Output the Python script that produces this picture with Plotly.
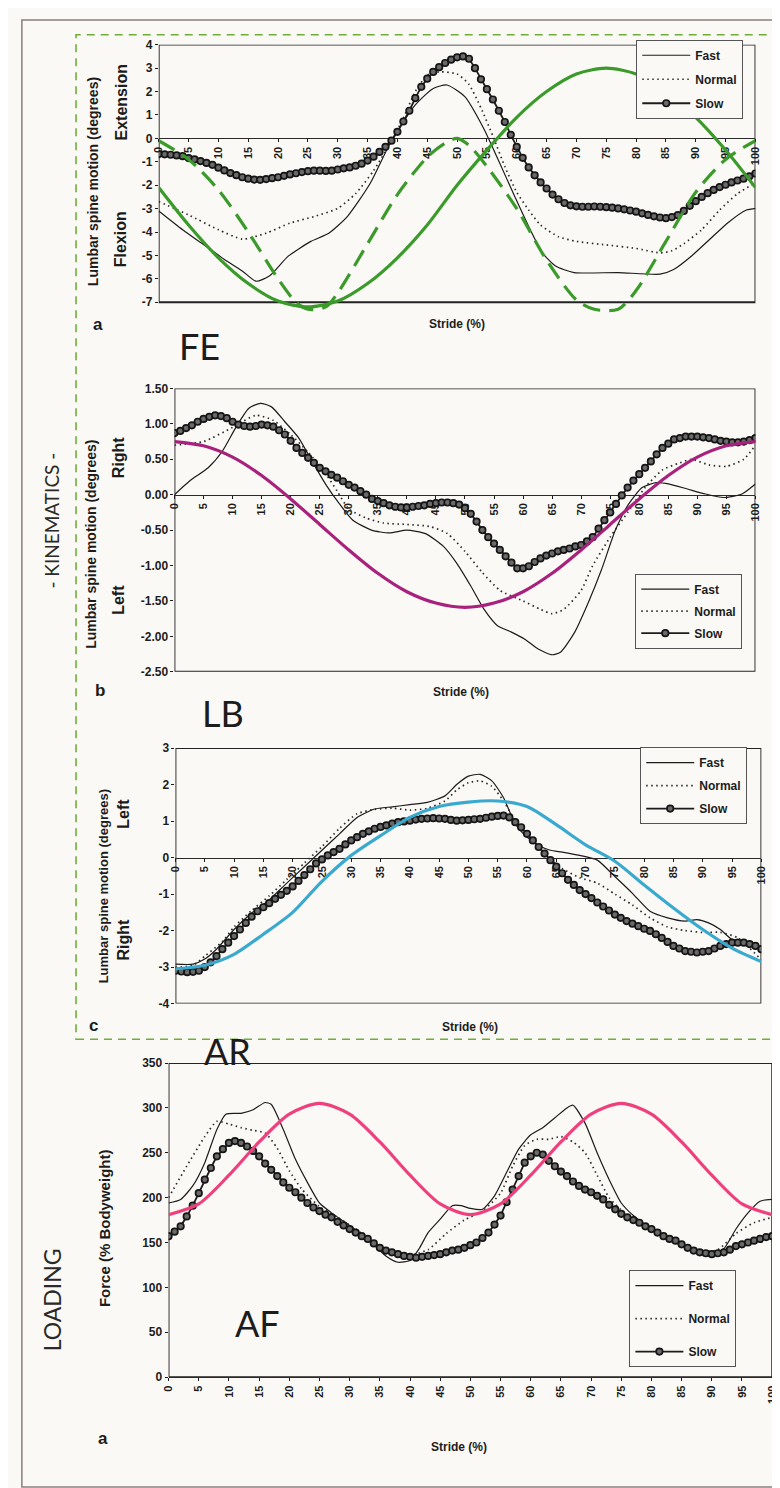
import plotly.graph_objects as go

W, H = 780, 1488
BG = "#fbf9f5"
INK = "#1c1c1c"
NARROW = "Liberation Sans Narrow, Arial Narrow, Liberation Sans, Arial, sans-serif"
HUMAN = "Lato, Open Sans, Noto Sans, sans-serif"

# ------------------------------------------------------------------ data
series_names = ["Fast", "Normal", "Slow"]
stride_ticks = list(range(0, 101, 5))
slow_x = list(range(0, 101))

# --- FE (flexion / extension)
fe_yticks = [4, 3, 2, 1, 0, -1, -2, -3, -4, -5, -6, -7]
fe_fast_x = [0, 4, 8.7, 11, 14, 16.3, 18.6, 21.7, 25.5, 28.5, 31.6, 35.4, 39, 43, 46, 48.3, 51.3, 54.4, 56.7, 59.7,
             62, 64.3, 66.5, 69.6, 77, 84, 86.3, 89.4, 92.4, 95.4, 98.5, 100]
fe_fast_y = [-3.1, -3.9, -4.75, -5.17, -5.66, -6.1, -5.87, -5.03, -4.4, -4.05, -3.34, -1.94, -0.1, 1.43, 2.13, 2.28,
             1.78, 0.45, -0.81, -2.5, -3.76, -4.89, -5.45, -5.73, -5.73, -5.8, -5.6, -5.0, -4.3, -3.6, -3.06, -3.0]
fe_norm_x = [0, 5, 10, 14, 18, 22, 26, 30, 33, 36, 39, 41, 43, 45, 47, 50, 52, 54, 56, 58, 60, 62, 64, 67, 70, 75,
             80, 84, 86, 88, 91, 94, 97, 100]
fe_norm_y = [-2.7, -3.27, -3.9, -4.3, -4.05, -3.62, -3.34, -2.99, -2.36, -1.38, -0.11, 0.87, 2.0, 2.7, 2.84, 2.75,
             2.3, 1.3, 0.1, -1.2, -2.3, -3.06, -3.7, -4.2, -4.4, -4.55, -4.7, -4.89, -4.8, -4.5, -3.9, -3.06, -2.36,
             -1.9]
fe_slow_y = [-0.67, -0.68, -0.70, -0.73, -0.76, -0.84, -0.90, -0.97, -1.05, -1.13,
             -1.25, -1.37, -1.48, -1.57, -1.66, -1.72, -1.76, -1.77, -1.74, -1.70,
             -1.66, -1.60, -1.54, -1.49, -1.44, -1.40, -1.38, -1.38, -1.39, -1.38,
             -1.33, -1.28, -1.24, -1.17, -1.08, -0.95, -0.78, -0.58, -0.36, -0.10,
             0.28, 0.72, 1.18, 1.72, 2.20, 2.55, 2.84, 3.04, 3.22, 3.36,
             3.46, 3.50, 3.40, 3.00, 2.52, 2.10, 1.66, 1.18, 0.70, 0.15,
             -0.36, -0.83, -1.24, -1.58, -1.88, -2.14, -2.40, -2.60, -2.76, -2.86,
             -2.90, -2.92, -2.92, -2.91, -2.92, -2.94, -2.96, -2.99, -3.03, -3.08,
             -3.13, -3.20, -3.27, -3.33, -3.38, -3.41, -3.36, -3.28, -3.10, -2.88,
             -2.68, -2.50, -2.34, -2.20, -2.08, -1.98, -1.88, -1.80, -1.72, -1.62,
             -1.50]
fe_green_sine = [-2.1, -3.7, -5.1, -6.2, -6.95, -7.2, -6.95, -6.2, -5.1, -3.7, -2.0, -0.5, 0.9, 2.0, 2.75, 3.0,
                 2.75, 2.0, 0.9, -0.5, -2.1]
fe_green_dash_x = [0, 5, 10, 15, 20, 23, 25, 28, 30, 35, 40, 45, 48, 50, 52, 55, 60, 65, 70, 73, 77, 80, 85, 90, 95,
                   100]
fe_green_dash_y = [-0.1, -0.9, -2.2, -4.0, -6.0, -7.0, -7.3, -7.2, -6.6, -4.5, -2.4, -0.8, -0.2, 0.0, -0.3, -1.2,
                   -3.0, -5.2, -6.9, -7.3, -7.3, -6.5, -4.4, -2.3, -0.9, -0.1]

# --- LB (lateral bending)
lb_yticks = [1.5, 1.0, 0.5, 0.0, -0.5, -1.0, -1.5, -2.0, -2.5]
lb_ytick_labels = ["1.50", "1.00", "0.50", "0.00", "-0.50", "-1.00", "-1.50", "-2.00", "-2.50"]
lb_fast_x = [0, 2.7, 5.8, 8.2, 10.5, 12.8, 14.8, 16.7, 19, 21.4, 23.7, 26, 28.4, 30.7, 33.9, 37, 40, 43.2, 46.3, 48.6,
             51, 53.3, 55.6, 58, 60.3, 62.6, 65, 66.5, 68.9, 71.2, 73.5, 75.9, 78.2, 80.5, 82.9, 85.2, 88.3, 91.4,
             94.5, 97.7, 100]
lb_fast_y = [0, 0.2, 0.38, 0.61, 0.94, 1.22, 1.29, 1.24, 1.03, 0.8, 0.47, 0.15, -0.13, -0.36, -0.5, -0.54, -0.5,
             -0.55, -0.73, -0.97, -1.29, -1.62, -1.85, -1.94, -2.04, -2.18, -2.26, -2.22, -1.94, -1.53, -1.06, -0.5,
             -0.13, 0.1, 0.17, 0.15, 0.08, 0.01, -0.04, 0.01, 0.15]
lb_norm_x = [0, 5, 10, 14, 17, 20, 23, 26, 28, 30, 33, 36, 40, 44, 47, 50, 53, 56, 60, 63, 65, 67, 70, 72, 75, 78,
             81, 84, 87, 89, 92, 95, 98, 100]
lb_norm_y = [0.7, 0.75, 0.95, 1.12, 1.05, 0.85, 0.6, 0.3, 0.05, -0.2, -0.33, -0.4, -0.42, -0.45, -0.55, -0.8, -1.1,
             -1.35, -1.5, -1.62, -1.68, -1.62, -1.35, -1.0, -0.6, -0.25, 0.1, 0.35, 0.45, 0.5, 0.42, 0.4, 0.5, 0.7]
lb_slow_y = [0.87, 0.90, 0.94, 0.98, 1.03, 1.07, 1.10, 1.12, 1.11, 1.08,
             1.03, 0.99, 0.97, 0.96, 0.97, 0.99, 0.98, 0.96, 0.91, 0.85,
             0.76, 0.66, 0.59, 0.52, 0.45, 0.38, 0.33, 0.28, 0.24, 0.19,
             0.14, 0.10, 0.05, 0.00, -0.06, -0.09, -0.12, -0.15, -0.17, -0.18,
             -0.18, -0.17, -0.16, -0.15, -0.13, -0.12, -0.11, -0.11, -0.12, -0.14,
             -0.19, -0.27, -0.38, -0.50, -0.60, -0.69, -0.78, -0.87, -0.96, -1.04,
             -1.04, -1.01, -0.95, -0.90, -0.86, -0.83, -0.80, -0.78, -0.76, -0.73,
             -0.71, -0.66, -0.60, -0.48, -0.36, -0.25, -0.13, -0.01, 0.10, 0.20,
             0.29, 0.38, 0.47, 0.57, 0.66, 0.72, 0.78, 0.80, 0.82, 0.82,
             0.82, 0.81, 0.80, 0.78, 0.76, 0.75, 0.74, 0.74, 0.75, 0.77,
             0.80]
lb_magenta = [0.75, 0.69, 0.53, 0.27, -0.06, -0.42, -0.78, -1.11, -1.37, -1.53, -1.59, -1.53, -1.37, -1.11, -0.78,
              -0.42, -0.06, 0.27, 0.53, 0.69, 0.75]

# --- AR (axial rotation)
ar_yticks = [3, 2, 1, 0, -1, -2, -3, -4]
ar_fast_x = [0, 3, 5, 7, 10, 13, 16, 19, 22, 25, 28, 31, 34, 37, 40, 43, 46, 48, 50, 52, 54, 56, 58, 60, 62, 64, 66,
             69, 72, 75, 78, 81, 84, 87, 89, 91, 93, 95, 97, 100]
ar_fast_y = [-2.92, -2.92, -2.78, -2.51, -1.97, -1.52, -1.16, -0.7, -0.25, 0.2, 0.65, 1.1, 1.33, 1.39, 1.45, 1.51,
             1.69, 2.0, 2.23, 2.28, 2.1, 1.64, 0.92, 0.56, 0.33, 0.2, 0.15, 0.06, -0.07, -0.52, -0.98, -1.47, -1.65,
             -1.74, -1.7, -1.79, -1.97, -2.24, -2.29, -2.51]
ar_norm_x = [0, 3, 5, 8, 10, 13, 16, 19, 22, 25, 28, 31, 34, 37, 40, 43, 46, 48, 50, 52, 54, 56, 58, 60, 63, 66, 69,
             72, 75, 78, 81, 84, 87, 90, 93, 96, 100]
ar_norm_y = [-3.0, -2.95, -2.7, -2.3, -1.9, -1.45, -1.05, -0.6, -0.15, 0.3, 0.8, 1.2, 1.32, 1.35, 1.3, 1.35, 1.55,
             1.85, 2.05, 2.1, 1.95, 1.55, 1.0, 0.6, 0.1, -0.3, -0.55, -0.7, -1.0, -1.3, -1.65, -1.9, -2.0, -2.05,
             -2.05, -2.2, -2.8]
ar_slow_y = [-3.10, -3.12, -3.14, -3.13, -3.10, -3.00, -2.87, -2.70, -2.51, -2.33,
             -2.15, -1.97, -1.79, -1.62, -1.47, -1.36, -1.25, -1.13, -1.02, -0.91,
             -0.79, -0.64, -0.48, -0.32, -0.16, -0.05, 0.06, 0.15, 0.24, 0.36,
             0.47, 0.56, 0.65, 0.72, 0.79, 0.84, 0.88, 0.93, 0.97, 0.99,
             1.01, 1.04, 1.06, 1.07, 1.08, 1.07, 1.06, 1.03, 1.01, 1.02,
             1.03, 1.05, 1.06, 1.09, 1.12, 1.14, 1.15, 1.10, 0.97, 0.83,
             0.65, 0.47, 0.29, 0.11, -0.07, -0.25, -0.43, -0.61, -0.75, -0.89,
             -1.00, -1.11, -1.23, -1.34, -1.45, -1.56, -1.65, -1.74, -1.81, -1.88,
             -1.95, -2.01, -2.10, -2.20, -2.31, -2.42, -2.49, -2.56, -2.58, -2.60,
             -2.58, -2.56, -2.49, -2.42, -2.37, -2.33, -2.33, -2.33, -2.37, -2.42,
             -2.51]
ar_cyan = [-3.05, -2.95, -2.65, -2.1, -1.5, -0.65, 0.06, 0.6, 1.1, 1.4, 1.52, 1.55, 1.4, 0.9, 0.35, -0.1, -0.75,
           -1.38, -1.97, -2.48, -2.85]

# --- AF (axial force)
af_yticks = [350, 300, 250, 200, 150, 100, 50, 0]
af_fast_x = [0, 2, 4, 6, 8, 9.5, 12, 14, 16, 17, 19, 21, 23, 25, 27, 30, 33, 36, 38, 40, 41.5, 43, 45, 47, 48.5, 50,
             52, 54, 56, 58, 60, 62, 64, 66, 67, 69, 71, 73, 75, 77, 80, 83, 86, 88, 90, 92, 94, 96, 98, 100]
af_fast_y = [194, 198, 213, 239, 276, 293, 294, 298, 306, 304, 276, 243, 217, 194, 183, 169, 154, 135, 128, 130,
             143, 161, 176, 191, 191, 188, 187, 202, 228, 254, 270, 278, 289, 300, 303, 283, 250, 220, 194, 180,
             165, 154, 143, 137, 135, 143, 165, 183, 196, 198]
af_norm_x = [0, 3, 6, 8, 10, 12, 14, 16, 18, 20, 22, 25, 28, 31, 34, 37, 40, 43, 46, 49, 52, 55, 57, 59, 61, 63, 65,
             67, 69, 71, 73, 76, 79, 82, 85, 88, 91, 94, 97, 100]
af_norm_y = [200, 235, 268, 285, 282, 278, 275, 272, 255, 230, 210, 190, 178, 165, 150, 140, 136, 142, 160, 175,
             185, 205, 235, 258, 265, 265, 268, 262, 250, 225, 200, 180, 168, 158, 148, 140, 142, 160, 172, 178]
af_slow_y = [157, 162, 168, 179, 191, 205, 220, 233, 246, 254,
             261, 263, 261, 257, 252, 246, 238, 231, 224, 217,
             211, 206, 200, 194, 189, 185, 181, 178, 173, 169,
             165, 161, 157, 154, 149, 144, 141, 139, 137, 135,
             134, 133, 134, 135, 136, 137, 139, 141, 142, 144,
             147, 150, 155, 161, 170, 180, 195, 209, 224, 239,
             246, 250, 248, 241, 235, 229, 224, 218, 213, 209,
             206, 202, 198, 192, 187, 182, 178, 175, 172, 168,
             165, 161, 157, 154, 152, 148, 144, 141, 139, 138,
             137, 138, 139, 142, 146, 148, 150, 152, 154, 156,
             157]
af_pink = [181, 193, 225, 262, 293, 305, 293, 262, 225, 193, 181, 193, 225, 262, 293, 305, 293, 262, 225, 193, 181]

# ------------------------------------------------------------------ styling / layout constants
GREEN = "#3a9a2a"
MAGENTA = "#a8217c"
CYAN = "#3aa9cf"
PINK = "#ef3f7c"

panels = [
    dict(box=(147, 753, 30, 290), yr=(-7, 4), ext=(-7.45, 4.0), yt=fe_yticks,
         ytl=[str(v) for v in fe_yticks], zero_axis=True,
         fast=(fe_fast_x, fe_fast_y), normal=(fe_norm_x, fe_norm_y), slow=fe_slow_y,
         overlays=[(stride_ticks, fe_green_sine, GREEN, "solid"),
                   (fe_green_dash_x, fe_green_dash_y, GREEN, "18px,9px")],
         legend=(632, 25, 5)),
    dict(box=(163, 753, 377, 663), yr=(-2.5, 1.5), ext=(-2.5, 1.5), yt=lb_yticks,
         ytl=lb_ytick_labels, zero_axis=True,
         fast=(lb_fast_x, lb_fast_y), normal=(lb_norm_x, lb_norm_y), slow=lb_slow_y,
         overlays=[(stride_ticks, lb_magenta, MAGENTA, "solid")],
         legend=(631, 564, 3)),
    dict(box=(164, 759, 740, 998), yr=(-4, 3), ext=(-4, 3), yt=ar_yticks,
         ytl=[str(v) for v in ar_yticks], zero_axis=True,
         fast=(ar_fast_x, ar_fast_y), normal=(ar_norm_x, ar_norm_y), slow=ar_slow_y,
         overlays=[(stride_ticks, ar_cyan, CYAN, "solid")],
         legend=(636, 739, 4)),
    dict(box=(157, 770, 1058, 1375), yr=(0, 350), ext=(0, 350), yt=af_yticks,
         ytl=[str(v) for v in af_yticks], zero_axis=False,
         fast=(af_fast_x, af_fast_y), normal=(af_norm_x, af_norm_y), slow=af_slow_y,
         overlays=[(stride_ticks, af_pink, PINK, "solid")],
         legend=(625, 1267, 14)),
]

fig = go.Figure()
layout = dict(shapes=[], annotations=[])

tickfont_y = dict(family=NARROW, size=12, color=INK, weight="bold")
tickfont_x = dict(family=NARROW, size=11, color=INK, weight="bold")

for i, p in enumerate(panels, start=1):
    sfx = "" if i == 1 else str(i)
    xa, ya = "x" + sfx, "y" + sfx
    left, right, top, bottom = p["box"]
    ymin, ymax = p["yr"]
    ylo, yhi = p["ext"]
    ppu = (bottom - top) / (ymax - ymin)
    dom_bot_px = bottom + (ymin - ylo) * ppu
    dom_top_px = top - (yhi - ymax) * ppu
    ydom = [1 - dom_bot_px / H, 1 - dom_top_px / H]
    xdom = [left / W, right / W]
    leg = "legend" if i == 1 else "legend" + str(i)

    xaxis = dict(domain=xdom, range=[0, 100], tickvals=stride_ticks, tickangle=-90,
                 ticks="outside", ticklen=3, tickcolor=INK, showgrid=False, zeroline=False,
                 showline=True, linecolor="#2a2a2a", linewidth=1.2, tickfont=tickfont_x,
                 layer="below traces", fixedrange=True)
    if p["zero_axis"]:
        zero_px = top + (ymax - 0) * ppu
        xaxis.update(anchor="free", position=1 - zero_px / H)
    else:
        xaxis.update(anchor=ya)
    yaxis = dict(domain=ydom, range=[ylo, yhi], tickvals=p["yt"], ticktext=p["ytl"],
                 ticks="outside", ticklen=3, tickcolor=INK, showgrid=False, zeroline=False,
                 showline=False, tickfont=tickfont_y, anchor=xa, fixedrange=True)
    layout["xaxis" + sfx] = xaxis
    layout["yaxis" + sfx] = yaxis

    # frame of the chart
    layout["shapes"].append(dict(type="rect", xref=xa, yref=ya, x0=0, x1=100, y0=ymin, y1=ymax,
                                 line=dict(color="#222", width=1.8), layer="below"))

    fx, fy = p["fast"]
    nx, ny = p["normal"]
    fig.add_trace(go.Scatter(x=fx, y=fy, mode="lines", name=series_names[0], xaxis=xa, yaxis=ya,
                             line=dict(color=INK, width=1.2, shape="spline", smoothing=0.6),
                             legend=leg, legendgroup=f"p{i}fast"))
    fig.add_trace(go.Scatter(x=nx, y=ny, mode="lines", name=series_names[1], xaxis=xa, yaxis=ya,
                             line=dict(color="#2a2a2a", width=1.7, dash="1.5px,3.5px", shape="spline",
                                       smoothing=0.6),
                             legend=leg, legendgroup=f"p{i}norm"))
    fig.add_trace(go.Scatter(x=slow_x, y=p["slow"], mode="lines+markers", name=series_names[2],
                             xaxis=xa, yaxis=ya,
                             line=dict(color=INK, width=1.8),
                             marker=dict(symbol="circle", size=6.5, color="#6a6a6a",
                                         line=dict(color="#151515", width=1.7)),
                             legend=leg, legendgroup=f"p{i}slow"))
    for ox, oy, col, dash in p["overlays"]:
        fig.add_trace(go.Scatter(x=ox, y=oy, mode="lines", xaxis=xa, yaxis=ya, showlegend=False,
                                 line=dict(color=col, width=3.2, dash=dash, shape="spline", smoothing=0.8),
                                 hoverinfo="skip"))

    lx, ly, gap = p["legend"]
    layout[leg] = dict(x=lx / W, y=1 - ly / H, xanchor="left", yanchor="top", bgcolor=BG,
                       bordercolor="#555", borderwidth=1, tracegroupgap=gap, itemwidth=48,
                       font=dict(family=NARROW, size=12, color=INK, weight="bold"))

# outer frame and dashed kinematics box
layout["shapes"].append(dict(type="rect", xref="paper", yref="paper", x0=8 / W, x1=777 / W,
                             y0=1 - 1486 / H, y1=1 - 5 / H, line=dict(color="#8a7f7f", width=1.5)))
layout["shapes"].append(dict(type="rect", xref="paper", yref="paper", x0=63 / W, x1=771 / W,
                             y0=1 - 1034 / H, y1=1 - 20 / H,
                             line=dict(color="#6fae3a", width=1.6, dash="8px,6px")))


def note(text, px, py, size, family, angle=0, bold=False, color=INK):
    layout["annotations"].append(dict(
        text=text, x=px / W, y=1 - py / H, xref="paper", yref="paper", showarrow=False,
        xanchor="center", yanchor="middle", textangle=angle,
        font=dict(family=family, size=size, color=color, weight="bold" if bold else "normal")))


note("- KINEMATICS -", 38, 510, 19, HUMAN, -90, color="#2a2a2a")
note("LOADING", 38, 1297, 23, HUMAN, -90, color="#2a2a2a")
note("FE", 188, 334, 36, HUMAN)
note("LB", 212, 705, 36, HUMAN)
note("AR", 217, 1046, 36, HUMAN)
note("AF", 247, 1320, 36, HUMAN)

note("Lumbar spine motion (degrees)", 81, 168, 14, NARROW, -90, True)
note("Extension", 109, 88, 16, NARROW, -90, True)
note("Flexion", 109, 226, 16, NARROW, -90, True)
note("Lumbar spine motion (degrees)", 78, 534, 14, NARROW, -90, True)
note("Right", 106, 446, 16, NARROW, -90, True)
note("Left", 106, 590, 16, NARROW, -90, True)
note("Lumbar spine motion (degrees)", 91, 880, 13, NARROW, -90, True)
note("Left", 111, 806, 16, NARROW, -90, True)
note("Right", 111, 933, 16, NARROW, -90, True)
note("Force (% Bodyweight)", 92, 1225, 15, NARROW, -90, True)

for (sx, sy) in [(450, 312), (454, 683), (463, 1022), (452, 1446)]:
    note("Stride (%)", sx, sy, 12, NARROW, 0, True)
for (txt, lx, ly) in [("a", 85, 312), ("b", 87, 682), ("c", 81, 1020), ("a", 90, 1437)]:
    note(txt, lx, ly, 17, NARROW, 0, True)

fig.update_layout(width=W, height=H, margin=dict(l=0, r=0, t=0, b=0), paper_bgcolor=BG, plot_bgcolor=BG,
                  showlegend=True, hovermode=False, **layout)

fig.write_html("out.html")
